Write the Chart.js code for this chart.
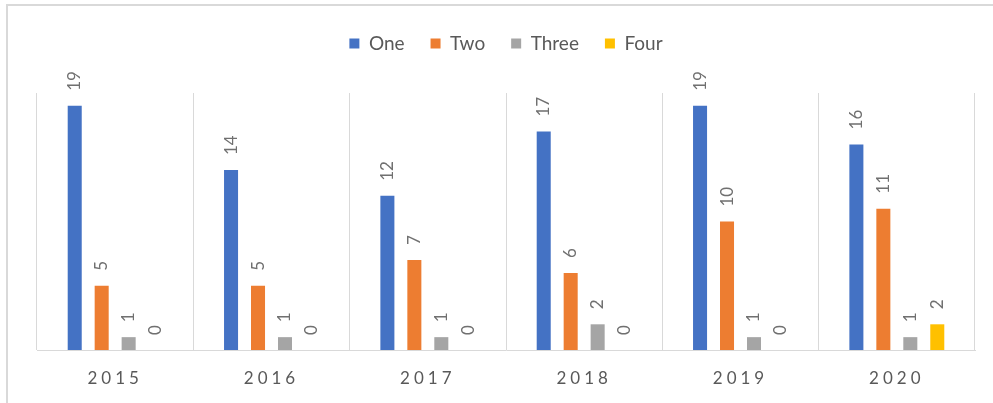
<!DOCTYPE html>
<html>
<head>
<meta charset="utf-8">
<script src="https://cdn.jsdelivr.net/npm/chart.js@4/dist/chart.umd.min.js"></script>
<style>
  html, body { margin: 0; padding: 0; background: #fff; overflow: hidden; }
  #wrap { position: relative; width: 993px; height: 403px; }
  #frame { position: absolute; left: 6px; top: 4px; width: 1000px; height: 420px;
           border-top: 2px solid #d9d9d9; border-left: 2px solid #d9d9d9; }
  canvas { position: absolute; left: 0; top: 0; }
</style>
</head>
<body>
<div id="wrap">
  <div id="frame"></div>
  <canvas id="chart" width="993" height="403"></canvas>
</div>
<script>
var years = ['2015', '2016', '2017', '2018', '2019', '2020']
var seriesNames = ['One', 'Two', 'Three', 'Four']
var one = [19, 14, 12, 17, 19, 16]
var two = [5, 5, 7, 6, 10, 11]
var three = [1, 1, 1, 2, 1, 1]
var four = [0, 0, 0, 0, 0, 2]
var colors = ['#4472C4', '#ED7D31', '#A5A5A5', '#FFC000']

var textColor = '#595959'
var fontFamily = 'Lato, "Liberation Sans", sans-serif'

// rotated value labels above each bar
var barLabels = {
  id: 'barLabels',
  afterDatasetsDraw: function(chart) {
    var ctx = chart.ctx
    chart.data.datasets.forEach(function(ds, i) {
      var meta = chart.getDatasetMeta(i)
      meta.data.forEach(function(bar, j) {
        ctx.save()
        ctx.translate(bar.x, bar.y - 15)
        ctx.rotate(-Math.PI / 2)
        ctx.font = '17px ' + fontFamily
        ctx.fillStyle = '#707070'
        ctx.textAlign = 'left'
        ctx.textBaseline = 'middle'
        ctx.fillText(String(ds.data[j]), 0, 0)
        ctx.restore()
      })
    })
  }
}

// spaced-out year labels, and extra room under the legend
var tweaks = {
  id: 'tweaks',
  beforeInit: function(chart) {
    var fit = chart.legend.fit
    chart.legend.fit = function() {
      fit.call(this)
      this.height = 85
    }
  },
  beforeDraw: function(chart) {
    var x = chart.scales.x
    if (x && !x._spaced) {
      var draw = x.drawLabels
      x.drawLabels = function(area) {
        var ctx = this.ctx
        ctx.save()
        ctx.letterSpacing = '4px'
        draw.call(this, area)
        ctx.restore()
      }
      x._spaced = true
    }
  }
}

var chart = new Chart(document.getElementById('chart'), {
  type: 'bar',
  data: {
    labels: years,
    datasets: [one, two, three, four].map(function(values, i) {
      return {
        label: seriesNames[i],
        data: values,
        backgroundColor: colors[i],
        borderWidth: 0,
        categoryPercentage: 0.69,
        barPercentage: 0.52
      }
    })
  },
  options: {
    responsive: false,
    animation: false,
    devicePixelRatio: 1,
    layout: { padding: { top: 8, left: 37, right: 18, bottom: 0 } },
    plugins: {
      legend: {
        position: 'top',
        labels: {
          boxWidth: 10,
          boxHeight: 10,
          padding: 26,
          color: textColor,
          font: { family: fontFamily, size: 19 }
        }
      },
      tooltip: { enabled: false }
    },
    scales: {
      x: {
        grid: { display: true, offset: true, drawTicks: false, color: '#d9d9d9', lineWidth: 1 },
        border: { display: true, color: '#d9d9d9', width: 1 },
        ticks: { color: textColor, padding: 18, font: { family: fontFamily, size: 17 } },
        afterFit: function(scale) { scale.height = 53 }
      },
      y: {
        display: false,
        min: 0,
        max: 20
      }
    }
  },
  plugins: [barLabels, tweaks]
})
</script>
</body>
</html>
